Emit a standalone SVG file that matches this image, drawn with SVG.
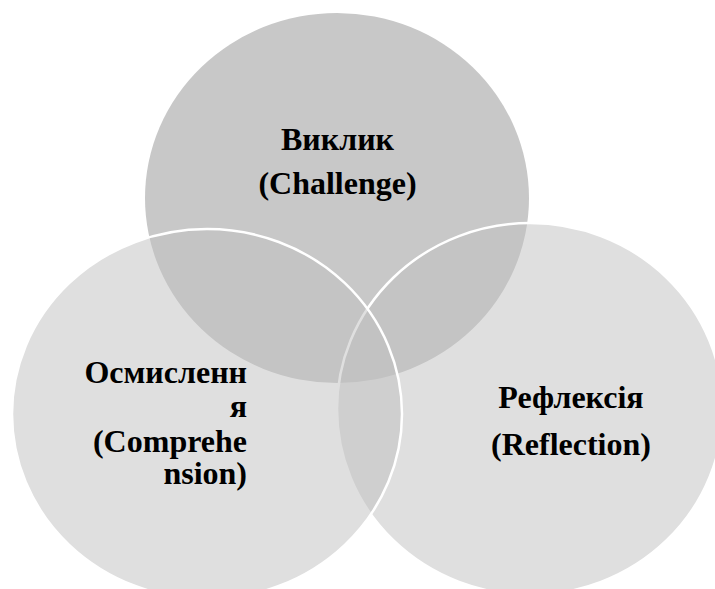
<svg xmlns="http://www.w3.org/2000/svg" width="715" height="589" viewBox="0 0 715 589">
<style>
text{font-family:'Liberation Serif','Times New Roman','DejaVu Serif',serif;font-weight:700;font-size:32px;fill:#000}
.c{text-anchor:middle}
.r{text-anchor:end}
.alpha{fill:rgb(192,192,192);fill-opacity:0.5;stroke:#fff;stroke-width:2.5}
</style>
<rect width="715" height="589" fill="#fff"/>
<g id="challenge">
<ellipse cx="337" cy="198" rx="192" ry="185" fill="#c8c8c8"/>
</g>
<g id="reflection">
<ellipse class="alpha" cx="530" cy="409" rx="193" ry="186"/>
</g>
<g id="comprehension">
<ellipse class="alpha" cx="207" cy="414" rx="195" ry="185"/>
</g>
<g id="labels">
<text class="c" x="337.5" y="150">Виклик</text>
<text class="c" x="337.5" y="194">(Challenge)</text>
<text class="r" x="247" y="383">Осмисленн</text>
<text class="r" x="247" y="417">я</text>
<text class="r" x="247" y="452">(Comprehe</text>
<text class="r" x="247" y="484">nsion)</text>
<text class="c" x="571" y="408">Рефлексія</text>
<text class="c" x="571" y="455">(Reflection)</text>
</g>
</svg>
